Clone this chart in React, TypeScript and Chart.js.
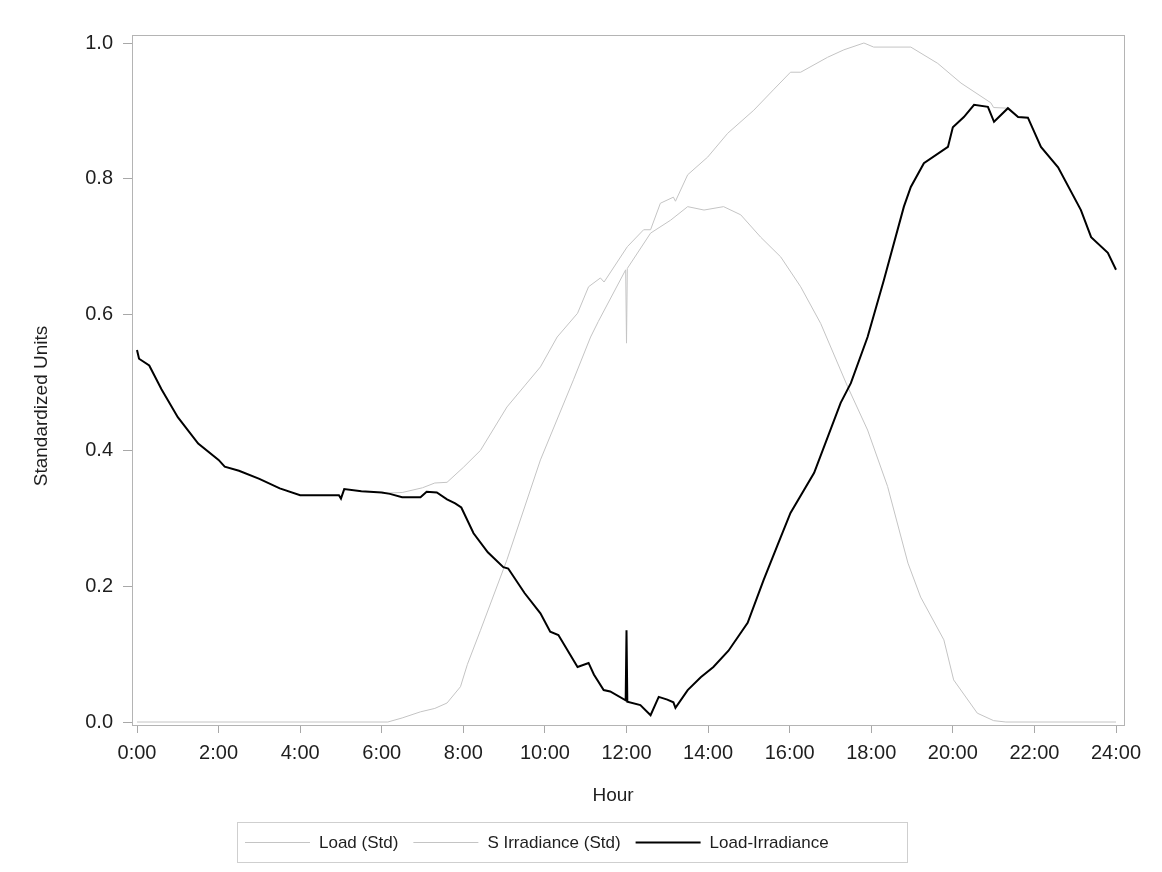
import React, { useEffect, useRef } from "react";
import { Chart, registerables } from "chart.js";

Chart.register(...registerables);

// ---- data ----
const xTickValues = [0, 2, 4, 6, 8, 10, 12, 14, 16, 18, 20, 22, 24];
const yTickValues = [0, 0.2, 0.4, 0.6, 0.8, 1.0];

const seriesLabels = ["Load (Std)", "S Irradiance (Std)", "Load-Irradiance"];
const xAxisTitle = "Hour";
const yAxisTitle = "Standardized Units";

const loadHours = [
  6.0, 6.5, 7.0, 7.3, 7.6, 8.0, 8.42, 9.07, 9.5, 9.89, 10.3, 10.8, 11.07, 11.36, 11.45,
  12.02, 12.42, 12.59, 12.83, 13.15, 13.2, 13.5, 13.99, 14.48, 15.12, 15.6, 16.02, 16.27,
  16.93, 17.33, 17.82, 18.06, 18.97, 19.63, 20.2, 20.93, 21.0, 21.35,
];
const loadValues = [
  0.337, 0.338, 0.345, 0.352, 0.353, 0.375, 0.4, 0.464, 0.495, 0.523, 0.567, 0.602, 0.641, 0.654, 0.648,
  0.7, 0.725, 0.725, 0.764, 0.773, 0.767, 0.806, 0.832, 0.867, 0.901, 0.931, 0.957, 0.957,
  0.979, 0.99, 1.0, 0.994, 0.994, 0.97, 0.941, 0.912, 0.905, 0.904,
];

const irrHours = [
  0, 6.15, 6.5, 6.95, 7.3, 7.6, 7.93, 8.1, 8.42, 9.07, 9.89, 10.7, 11.12, 11.31, 11.98, 12.0, 12.02,
  12.59, 13.08, 13.5, 13.9, 14.38, 14.8, 15.29, 15.78, 16.27, 16.76, 17.42, 17.91, 18.4, 18.9,
  19.21, 19.78, 20.02, 20.6, 21.0, 21.3, 24,
];
const irrValues = [
  0, 0, 0.006, 0.015, 0.02, 0.028, 0.052, 0.085, 0.135, 0.239, 0.386, 0.504, 0.567, 0.59, 0.666, 0.558, 0.668,
  0.72, 0.739, 0.759, 0.754, 0.759, 0.747, 0.714, 0.685, 0.641, 0.587, 0.494, 0.43, 0.347, 0.234,
  0.184, 0.121, 0.062, 0.013, 0.002, 0, 0,
];

const netHours = [
  0.0, 0.05, 0.3, 0.6, 1.0, 1.5, 2.0, 2.15, 2.5, 3.0, 3.5, 4.0, 4.95, 5.0, 5.08, 5.5, 6.0, 6.2,
  6.5, 6.95, 7.1, 7.35, 7.6, 7.8, 7.95, 8.25, 8.6, 8.98, 9.1, 9.5, 9.89, 10.13, 10.33, 10.8,
  11.07, 11.2, 11.44, 11.6, 11.98, 12.0, 12.02, 12.34, 12.59, 12.79, 13.0, 13.15, 13.2, 13.5,
  13.82, 14.13, 14.5, 14.97, 15.36, 15.7, 16.02, 16.6, 17.25, 17.5, 17.91, 18.31, 18.8, 18.97,
  19.29, 19.88, 20.0, 20.27, 20.52, 20.86, 21.01, 21.35, 21.6, 21.84, 22.16, 22.58, 23.14,
  23.39, 23.8, 24.0,
];
const netValues = [
  0.548, 0.535, 0.525, 0.49, 0.449, 0.41, 0.386, 0.376, 0.37, 0.358, 0.344, 0.334, 0.334, 0.329, 0.343, 0.34, 0.338, 0.336,
  0.331, 0.331, 0.339, 0.338, 0.328, 0.322, 0.316, 0.278, 0.25, 0.228, 0.226, 0.19, 0.16, 0.133, 0.128, 0.081,
  0.087, 0.07, 0.047, 0.045, 0.032, 0.135, 0.03, 0.025, 0.01, 0.037, 0.033, 0.029, 0.021, 0.047,
  0.066, 0.081, 0.105, 0.146, 0.209, 0.26, 0.308, 0.367, 0.47, 0.499, 0.567, 0.651, 0.759, 0.788,
  0.823, 0.847, 0.876, 0.891, 0.909, 0.906, 0.884, 0.904, 0.891, 0.89, 0.847, 0.817, 0.754,
  0.714, 0.691, 0.666,
];

const FONT = '"Liberation Sans", Arial, Helvetica, sans-serif';
const TEXT = "#1e1e1e";
const AXIS = "#a8a8a8";

const toPoints = (xs: number[], ys: number[]) => xs.map((x, i) => ({ x, y: ys[i] }));

const framePlugin = {
  id: "frame",
  afterDraw(chart: any) {
    const { ctx, chartArea } = chart;
    ctx.save();
    ctx.strokeStyle = "#b4b4b4";
    ctx.lineWidth = 1;
    ctx.strokeRect(
      Math.round(chartArea.left) + 0.5,
      Math.round(chartArea.top) + 0.5,
      Math.round(chartArea.right - chartArea.left),
      Math.round(chartArea.bottom - chartArea.top)
    );
    ctx.restore();
  },
};

const axisTitlePlugin = {
  id: "axisTitles",
  afterDraw(chart: any) {
    const { ctx } = chart;
    ctx.save();
    ctx.font = `19px ${FONT}`;
    ctx.fillStyle = TEXT;
    ctx.textAlign = "center";
    ctx.textBaseline = "middle";
    ctx.fillText(xAxisTitle, 613, 796);
    ctx.translate(42, 406);
    ctx.rotate(-Math.PI / 2);
    ctx.fillText(yAxisTitle, 0, 0);
    ctx.restore();
  },
};

const legendPlugin = {
  id: "boxLegend",
  afterDraw(chart: any) {
    const { ctx } = chart;
    const startX = 245;
    const cy = 842;
    const sample = 65;
    const gap = 9;
    const itemGap = 15;
    ctx.save();
    ctx.font = `17px ${FONT}`;
    ctx.textBaseline = "middle";
    ctx.textAlign = "left";
    let x = startX;
    chart.data.datasets.forEach((ds: any) => {
      ctx.strokeStyle = ds.borderColor;
      ctx.lineWidth = ds.borderWidth;
      ctx.beginPath();
      ctx.moveTo(x, cy + 0.5);
      ctx.lineTo(x + sample, cy + 0.5);
      ctx.stroke();
      x += sample + gap;
      ctx.fillStyle = TEXT;
      ctx.fillText(ds.label, x, cy + 1);
      x += ctx.measureText(ds.label).width + itemGap;
    });
    ctx.strokeStyle = "#cfcfcf";
    ctx.lineWidth = 1;
    ctx.strokeRect(237.5, 822.5, 670, 40);
    ctx.restore();
  },
};

export default function App() {
  const canvasRef = useRef<HTMLCanvasElement | null>(null);

  useEffect(() => {
    if (!canvasRef.current) return;
    const chart = new Chart(canvasRef.current, {
      type: "line",
      data: {
        datasets: [
          {
            label: seriesLabels[0],
            data: toPoints(loadHours, loadValues),
            borderColor: "#c4c4c4",
            borderWidth: 1,
            pointRadius: 0,
            tension: 0,
            order: 2,
          },
          {
            label: seriesLabels[1],
            data: toPoints(irrHours, irrValues),
            borderColor: "#c4c4c4",
            borderWidth: 1,
            pointRadius: 0,
            tension: 0,
            order: 1,
          },
          {
            label: seriesLabels[2],
            data: toPoints(netHours, netValues),
            borderColor: "#000000",
            borderWidth: 2,
            pointRadius: 0,
            tension: 0,
            order: 0,
          },
        ],
      },
      options: {
        responsive: false,
        animation: false,
        events: [],
        layout: { padding: { left: 0, right: 38, top: 35, bottom: 0 } },
        plugins: {
          legend: { display: false },
          tooltip: { enabled: false },
        },
        scales: {
          x: {
            type: "linear",
            min: -0.1226,
            max: 24.196,
            afterBuildTicks: (scale: any) => {
              scale.ticks = xTickValues.map((v) => ({ value: v }));
            },
            afterFit: (scale: any) => {
              scale.height = 147;
            },
            border: { display: false },
            grid: { drawOnChartArea: false, drawTicks: true, tickLength: 8, color: AXIS },
            ticks: {
              padding: 8,
              color: TEXT,
              font: { family: FONT, size: 20 },
              autoSkip: false,
              maxRotation: 0,
              callback: (v: any) => `${v}:00`,
            },
            title: { display: false, text: xAxisTitle },
          },
          y: {
            type: "linear",
            min: -0.0044,
            max: 1.0118,
            afterBuildTicks: (scale: any) => {
              scale.ticks = yTickValues.map((v) => ({ value: v }));
            },
            afterFit: (scale: any) => {
              scale.width = 132;
            },
            border: { display: false },
            grid: { drawOnChartArea: false, drawTicks: true, tickLength: 9, color: AXIS },
            ticks: {
              padding: 10,
              color: TEXT,
              font: { family: FONT, size: 20 },
              callback: (v: any) => Number(v).toFixed(1),
            },
            title: { display: false, text: yAxisTitle },
          },
        },
      },
      plugins: [framePlugin, axisTitlePlugin, legendPlugin],
    } as any);
    return () => chart.destroy();
  }, []);

  return (
    <div style={{ position: "absolute", left: 0, top: 0, width: 1162, height: 872, background: "#fff" }}>
      <canvas ref={canvasRef} width={1162} height={872} />
    </div>
  );
}
